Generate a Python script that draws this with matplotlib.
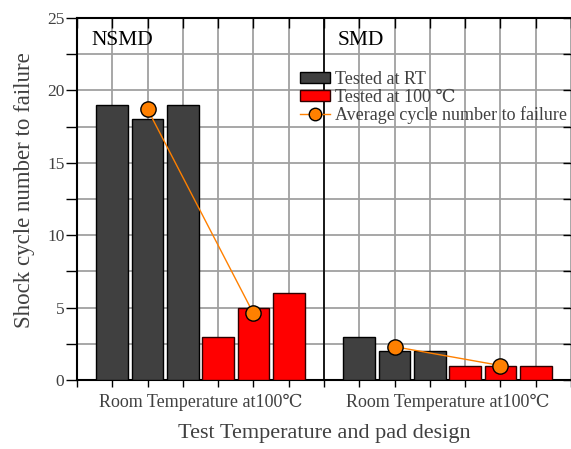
import numpy as np
import matplotlib.pyplot as plt
from matplotlib.patches import Patch
from matplotlib.lines import Line2D

# data
pad_designs = ["NSMD", "SMD"]
rt_cycles = {"NSMD": [19, 18, 19], "SMD": [3, 2, 2]}
hot_cycles = {"NSMD": [3, 5, 6], "SMD": [1, 1, 1]}
avg_rt = {"NSMD": 18.7, "SMD": 2.3}
avg_hot = {"NSMD": 4.6, "SMD": 1.0}
group_label = "Room Temperature at100\u2103"

SERIF = ["Liberation Serif", "DejaVu Serif", "DejaVu Sans"]
GREY_TXT = "#404040"

fig = plt.figure(figsize=(5.71, 4.49), dpi=100)
ax = fig.add_axes([77 / 571, 1 - 380 / 449, (571 - 77) / 571, (380 - 18) / 449])

bar_w = 0.9
for g, name in enumerate(pad_designs):
    off = 7 * g
    x_rt = off + np.arange(1, 4)
    x_hot = off + np.arange(4, 7)
    ax.bar(x_rt, rt_cycles[name], width=bar_w, color="#404040",
           edgecolor="black", linewidth=1, zorder=3)
    ax.bar(x_hot, hot_cycles[name], width=bar_w, color="#ff0000",
           edgecolor="#300000", linewidth=1, zorder=3)
    # average line from middle RT bar to middle 100C bar
    ax.plot([x_rt[1], x_hot[1]], [avg_rt[name], avg_hot[name]],
            color="#ff8000", lw=1, marker="o", ms=11,
            markerfacecolor="#ff8000", markeredgecolor="black",
            markeredgewidth=1, zorder=4)
    ax.text(off + 0.4, 23.45, name, fontsize=15.5, family=SERIF,
            color="black", ha="left", va="center")

ax.axvline(7, color="black", lw=1.2, zorder=2)

ax.set_xlim(0, 14)
ax.set_ylim(0, 25)
ax.set_xticks(np.arange(0, 15))
ax.set_xticks([3.5, 10.5], minor=True)
ax.set_xticklabels([])
ax.set_xticklabels([group_label, group_label], minor=True,
                   family=SERIF, fontsize=13, color=GREY_TXT)
ax.tick_params(axis="x", which="minor", length=0, pad=10)
ax.tick_params(axis="x", which="major", direction="out", length=5,
               width=1, top=True, labeltop=False)
ax.set_yticks(np.arange(0, 25.1, 2.5))
ax.set_yticklabels([f"{v:g}" if v % 5 == 0 else "" for v in np.arange(0, 25.1, 2.5)],
                   family=SERIF, fontsize=12.5, color=GREY_TXT)
ax.tick_params(axis="y", direction="out", length=8, width=1, pad=1,
               right=True)
for t in ax.xaxis.get_major_ticks():
    t.tick2line.set_marker(3)  # top ticks point down into the plot
    t.tick2line.set_markersize(7)
for t in ax.yaxis.get_major_ticks():
    t.tick2line.set_marker(0)  # right ticks point into the plot
    t.tick2line.set_markersize(6)

ax.grid(True, color="#a0a0a0", lw=1.3, zorder=0)
ax.set_axisbelow(True)
for s in ["left", "bottom", "top"]:
    ax.spines[s].set_linewidth(1.5)
ax.spines["right"].set_visible(False)

ax.set_ylabel("Shock cycle number to failure", family=SERIF,
              fontsize=16.5, color=GREY_TXT)
ax.yaxis.set_label_coords(-0.086, 0.525)
ax.set_xlabel("Test Temperature and pad design", family=SERIF,
              fontsize=16, color=GREY_TXT, labelpad=9)

handles = [
    Patch(facecolor="#404040", edgecolor="black", linewidth=1),
    Patch(facecolor="#ff0000", edgecolor="#300000", linewidth=1),
    Line2D([], [], color="#ff8000", lw=1, marker="o", ms=9,
           markerfacecolor="#ff8000", markeredgecolor="black"),
]
labels = ["Tested at RT", "Tested at 100 \u2103", "Average cycle number to failure"]
leg = ax.legend(handles, labels, loc="upper left",
                bbox_to_anchor=((300 - 77) / 494, (380 - 71) / 362),
                frameon=False, prop={"family": SERIF, "size": 13},
                handlelength=1.65, handleheight=0.6, handletextpad=0.3,
                labelspacing=0.04, borderpad=0, borderaxespad=0)
for t in leg.get_texts():
    t.set_color(GREY_TXT)

fig.savefig("out.png", dpi=100)
